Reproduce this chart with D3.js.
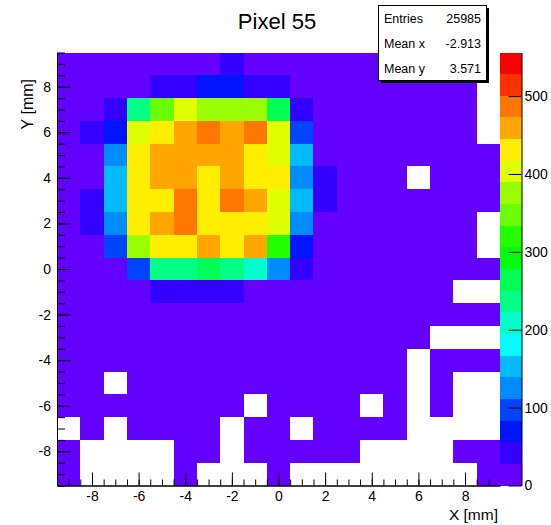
<!DOCTYPE html>
<html>
<head>
<meta charset="utf-8">
<script src="https://cdn.jsdelivr.net/npm/d3@7/dist/d3.min.js"></script>
<style>
  body { margin: 0; background: #fff; }
  text { font-family: "Liberation Sans", Arial, Helvetica, sans-serif; }
</style>
</head>
<body>
<svg id="chart" width="551" height="525"></svg>
<script>
// bin centres in mm (columns left->right, rows top->bottom)
var xCentres = [-9, -8, -7, -6, -5, -4, -3, -2, -1, 0, 1, 2, 3, 4, 5, 6, 7, 8, 9];
var yCentres = [9, 8, 7, 6, 5, 4, 3, 2, 1, 0, -1, -2, -3, -4, -5, -6, -7, -8, -9];

// bin contents, one row per y bin (0 = empty bin, not drawn)
var counts = [
  [14,14,14,14,14,14,14,42,14,14,14,14,14,14,14,14,14,14,0],
  [14,14,14,14,42,42,70,70,42,42,14,14,14,14,14,14,14,14,0],
  [14,14,42,236,347,403,375,375,375,264,42,14,14,14,14,14,14,14,0],
  [14,42,70,403,431,459,486,459,486,403,97,14,14,14,14,14,14,14,0],
  [14,14,125,431,459,459,459,459,431,403,153,14,14,14,14,14,14,14,14],
  [14,14,153,431,459,459,431,459,431,431,125,42,14,14,14,0,14,14,14],
  [14,42,153,431,431,486,431,486,459,403,153,42,14,14,14,14,14,14,14],
  [14,42,125,431,459,486,431,431,431,403,125,14,14,14,14,14,14,14,0],
  [14,14,97,375,431,431,459,431,459,320,70,14,14,14,14,14,14,14,0],
  [14,14,14,97,236,236,264,236,208,125,42,14,14,14,14,14,14,14,14],
  [14,14,14,14,42,42,42,42,14,14,14,14,14,14,14,14,14,0,0],
  [14,14,14,14,14,14,14,14,14,14,14,14,14,14,14,14,14,14,14],
  [14,14,14,14,14,14,14,14,14,14,14,14,14,14,14,14,0,0,0],
  [14,14,14,14,14,14,14,14,14,14,14,14,14,14,14,0,14,14,14],
  [14,14,0,14,14,14,14,14,14,14,14,14,14,14,14,0,14,0,0],
  [14,14,14,14,14,14,14,14,0,14,14,14,14,0,14,0,14,0,0],
  [0,14,0,14,14,14,14,0,14,14,0,14,14,14,14,0,0,0,0],
  [14,0,0,0,0,14,14,0,14,14,14,14,14,0,0,0,0,14,14],
  [14,0,0,0,0,14,0,0,0,14,0,0,0,0,0,0,0,0,14]
];

var xTicks = [-8, -6, -4, -2, 0, 2, 4, 6, 8];
var yTicks = [-8, -6, -4, -2, 0, 2, 4, 6, 8];
var zTicks = [0, 100, 200, 300, 400, 500];

var title = "Pixel 55";
var statNames = ["Entries", "Mean x", "Mean y"];
var statValues = ["25985", "-2.913", "3.571"];

var zMax = 556;
var nContours = 20;

var svg = d3.select("#chart");

var x = d3.scaleLinear().domain([-9.5, 9.5]).range([57, 500]);
var y = d3.scaleLinear().domain([-9.5, 9.5]).range([485.5, 52.5]);
var z = d3.scaleLinear().domain([0, zMax]).range([485.5, 52.5]);

// ROOT "pretty" palette (violet -> red), 50 colours, sampled for 20 contours
function contourColor(i) {
  var k = Math.floor((i + 0.99) * 50 / nContours);
  var hue = k >= 49 ? 0 : 280 - (k + 1) * 5.6;
  return d3.hsl(hue, 1, 0.5).toString();
}
function binColor(v) {
  var i = Math.floor(v / zMax * nContours);
  if (i > nContours - 1) i = nContours - 1;
  return contourColor(i);
}

// flatten bins
var cells = [];
counts.forEach(function (row, r) {
  row.forEach(function (v, c) {
    if (v > 0) cells.push({ xc: xCentres[c], yc: yCentres[r], v: v });
  });
});

svg.append("g")
  .attr("shape-rendering", "crispEdges")
  .selectAll("rect")
  .data(cells)
  .enter().append("rect")
  .attr("x", d => x(d.xc - 0.5))
  .attr("y", d => y(d.yc + 0.5))
  .attr("width", d => x(d.xc + 0.5) - x(d.xc - 0.5))
  .attr("height", d => y(d.yc - 0.5) - y(d.yc + 0.5))
  .attr("fill", d => binColor(d.v));

// axes: minor ticks every 0.5 mm, major every 2 mm, drawn inside the frame
var minor = d3.range(-9.5, 9.51, 0.5);

svg.append("g").attr("transform", "translate(0,485.5)")
  .call(d3.axisBottom(x).tickValues(minor).tickFormat("").tickSizeInner(-6).tickSizeOuter(0));
svg.append("g").attr("transform", "translate(0,485.5)")
  .call(d3.axisBottom(x).tickValues(xTicks).tickSizeInner(-13).tickSizeOuter(0).tickPadding(6)
    .tickFormat(d3.format("d")));

svg.append("g").attr("transform", "translate(57,0)")
  .call(d3.axisLeft(y).tickValues(minor).tickFormat("").tickSizeInner(-8).tickSizeOuter(0));
svg.append("g").attr("transform", "translate(57,0)")
  .call(d3.axisLeft(y).tickValues(yTicks).tickSizeInner(-14).tickSizeOuter(0).tickPadding(6)
    .tickFormat(d3.format("d")));

svg.selectAll(".tick text")
  .style("font-size", "14px")
  .attr("fill", "#000")
  .text(function () { return this.textContent.replace("\u2212", "-"); });
svg.selectAll(".domain, .tick line").attr("stroke", "#000").attr("stroke-width", 1);

// palette
var levels = d3.range(nContours);
svg.append("g")
  .attr("shape-rendering", "crispEdges")
  .selectAll("rect")
  .data(levels)
  .enter().append("rect")
  .attr("x", 500)
  .attr("width", 21.5)
  .attr("y", i => z((i + 1) * zMax / nContours))
  .attr("height", i => z(i * zMax / nContours) - z((i + 1) * zMax / nContours))
  .attr("fill", i => contourColor(i));

var zAxis = svg.append("g").attr("transform", "translate(521.5,0)")
  .call(d3.axisRight(z).tickValues(zTicks).tickSizeInner(-13).tickSizeOuter(0).tickPadding(3));
zAxis.selectAll("text").style("font-size", "14px").attr("fill", "#000");
zAxis.selectAll(".domain, .tick line").attr("stroke", "#000");

// titles
svg.append("text")
  .attr("x", 277).attr("y", 29)
  .attr("text-anchor", "middle")
  .style("font-size", "22px")
  .text(title);

svg.append("text")
  .attr("x", 498).attr("y", 520)
  .attr("text-anchor", "end")
  .style("font-size", "15.5px")
  .text("X [mm]");

svg.append("text")
  .attr("transform", "translate(33,79) rotate(-90)")
  .attr("text-anchor", "end")
  .style("font-size", "16px")
  .text("Y [mm]");

// stats box with shadow
var box = svg.append("g");
box.append("rect")
  .attr("x", 381).attr("y", 8).attr("width", 108).attr("height", 75)
  .attr("fill", "#000");
box.append("rect")
  .attr("x", 378.5).attr("y", 5.5).attr("width", 108).attr("height", 75)
  .attr("fill", "#fff").attr("stroke", "#000").attr("stroke-width", 1);

statNames.forEach(function (name, i) {
  var by = 23 + i * 25;
  box.append("text").attr("x", 384).attr("y", by)
    .style("font-size", "12.5px").text(name);
  box.append("text").attr("x", 481).attr("y", by)
    .attr("text-anchor", "end")
    .style("font-size", "12.5px").text(statValues[i]);
});
</script>
</body>
</html>
